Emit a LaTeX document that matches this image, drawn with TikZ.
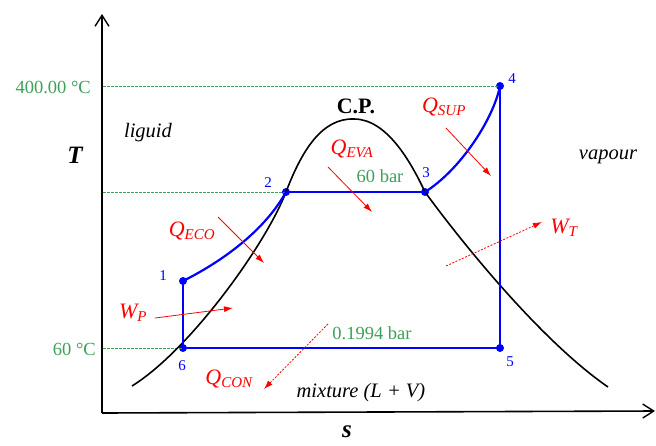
\documentclass[tikz,border=0pt]{standalone}
\usepackage{fontspec}
\setmainfont{Liberation Serif}
\usetikzlibrary{arrows.meta}
\definecolor{cgreen}{RGB}{60,160,90}
\definecolor{cblue}{RGB}{0,0,255}
\definecolor{cred}{RGB}{255,0,0}
\begin{document}
\begin{tikzpicture}[x=1pt,y=-1pt,
  axis/.style={line width=1.6pt,-{Straight Barb[length=11pt,width=14pt,line width=1.4pt]}},
  dome/.style={line width=1.6pt,black},
  cyc/.style={line width=2.2pt,cblue},
  dot/.style={circle,fill=cblue,inner sep=0pt,minimum size=8pt},
  guide/.style={cgreen,dashed,line width=0.8pt,dash pattern=on 2.5pt off 1.5pt},
  glabel/.style={text=cgreen,font=\fontsize{18.5}{20}\selectfont,inner sep=0pt},
  nlabel/.style={text=cblue,font=\fontsize{15}{17}\selectfont,inner sep=0pt},
  rlabel/.style={text=cred,font=\fontsize{22}{24}\selectfont\itshape,inner sep=0pt},
  heat/.style={cred,line width=0.8pt,-{Latex[length=9pt,width=6pt]}},
  work/.style={cred,line width=0.8pt,dash pattern=on 2pt off 1.5pt,-{Latex[length=9pt,width=6pt]}},
  itl/.style={font=\fontsize{20.5}{22}\selectfont\itshape,inner sep=0pt},
]
\useasboundingbox (0,0) rectangle (656,445);
% axes
\coordinate (o) at (102,413);
\coordinate (ty) at (102,14);
\coordinate (sx) at (655,411);
\draw[axis] (o) -- (ty);
\draw[axis] (o) -- (sx);
\node[font=\fontsize{25}{28}\selectfont\bfseries\itshape] (T) at (75,155) {T};
\node[font=\fontsize{25}{28}\selectfont\bfseries\itshape] (S) at (347,432) {s};
% cycle points
\node[dot] (p1) at (183,281) {};
\node[dot] (p2) at (286,192) {};
\node[dot] (p3) at (425,192) {};
\node[dot] (p4) at (500,86) {};
\node[dot] (p5) at (500,348) {};
\node[dot] (p6) at (183,348) {};
% guide lines
\coordinate (g400) at (103,86);
\coordinate (g2) at (103,192);
\coordinate (g60) at (103,348);
\draw[guide] (g400) -- (p4.center);
\draw[guide] (g2) -- (p2.center);
\draw[guide] (g60) -- (p6.center);
\node[glabel,anchor=east] (t400) at (91,87) {400.00 °C};
\node[glabel,anchor=east] (t60) at (96,349) {60 °C};
% dome
\coordinate (d0) at (132,386);
\coordinate (dtop) at (354,119);
\coordinate (d9) at (608,387);
\draw[dome] (d0) .. controls (190,350) and (266,244) .. (p2.center)
  .. controls (302,150) and (322,118) .. (dtop)
  .. controls (386,119) and (410,160) .. (p3.center)
  .. controls (460,240) and (540,340) .. (d9);
\node[font=\fontsize{22}{24}\selectfont\bfseries,inner sep=0pt] (cp) at (356,106) {C.P.};
% cycle
\draw[cyc] (p6.center) -- (p1.center);
\draw[cyc] (p1.center) .. controls (215,265) and (262,235) .. (p2.center);
\draw[cyc] (p2.center) -- (p3.center);
\draw[cyc] (p3.center) .. controls (460,170) and (493,120) .. (p4.center);
\draw[cyc] (p4.center) -- (p5.center);
\draw[cyc] (p5.center) -- (p6.center);
% point labels
\node[nlabel] (l1) at (163,276) {1};
\node[nlabel] (l2) at (268,183) {2};
\node[nlabel] (l3) at (426,173) {3};
\node[nlabel] (l4) at (512,79) {4};
\node[nlabel] (l5) at (510,362) {5};
\node[nlabel] (l6) at (182,366) {6};
% pressure labels
\node[glabel] (b60) at (380,176) {60 bar};
\node[glabel] (b01) at (372,333) {0.1994 bar};
% region labels
\node[itl] (liq) at (148,133) {liguid};
\node[itl] (vap) at (608,157) {vapour};
\node[itl] (mix) at (361,393) {mixture (\textit{L} + \textit{V})};
% heat / work labels and arrows
\node[rlabel] (qsup) at (444,107) {Q\textsubscript{\fontsize{15}{17}\selectfont SUP}};
\coordinate (qsupa) at (446,128); \coordinate (qsupb) at (491,176);
\draw[heat] (qsupa) -- (qsupb);
\node[rlabel] (qeva) at (352,149) {Q\textsubscript{\fontsize{15}{17}\selectfont EVA}};
\coordinate (qevaa) at (328,167); \coordinate (qevab) at (372,212);
\draw[heat] (qevaa) -- (qevab);
\node[rlabel] (qeco) at (192,231) {Q\textsubscript{\fontsize{15}{17}\selectfont ECO}};
\coordinate (qecoa) at (218,217); \coordinate (qecob) at (264,263);
\draw[heat] (qecoa) -- (qecob);
\node[rlabel] (wp) at (133,313) {W\textsubscript{\fontsize{15}{17}\selectfont P}};
\coordinate (wpa) at (155,318); \coordinate (wpb) at (233,308);
\draw[heat] (wpa) -- (wpb);
\node[rlabel] (qcon) at (229,379) {Q\textsubscript{\fontsize{15}{17}\selectfont CON}};
\coordinate (qcona) at (328,324); \coordinate (qconb) at (264,389);
\draw[work] (qcona) -- (qconb);
\node[rlabel] (wt) at (564,228) {W\textsubscript{\fontsize{15}{17}\selectfont T}};
\coordinate (wta) at (446,266); \coordinate (wtb) at (542,222);
\draw[work] (wta) -- (wtb);
\end{tikzpicture}
\end{document}
